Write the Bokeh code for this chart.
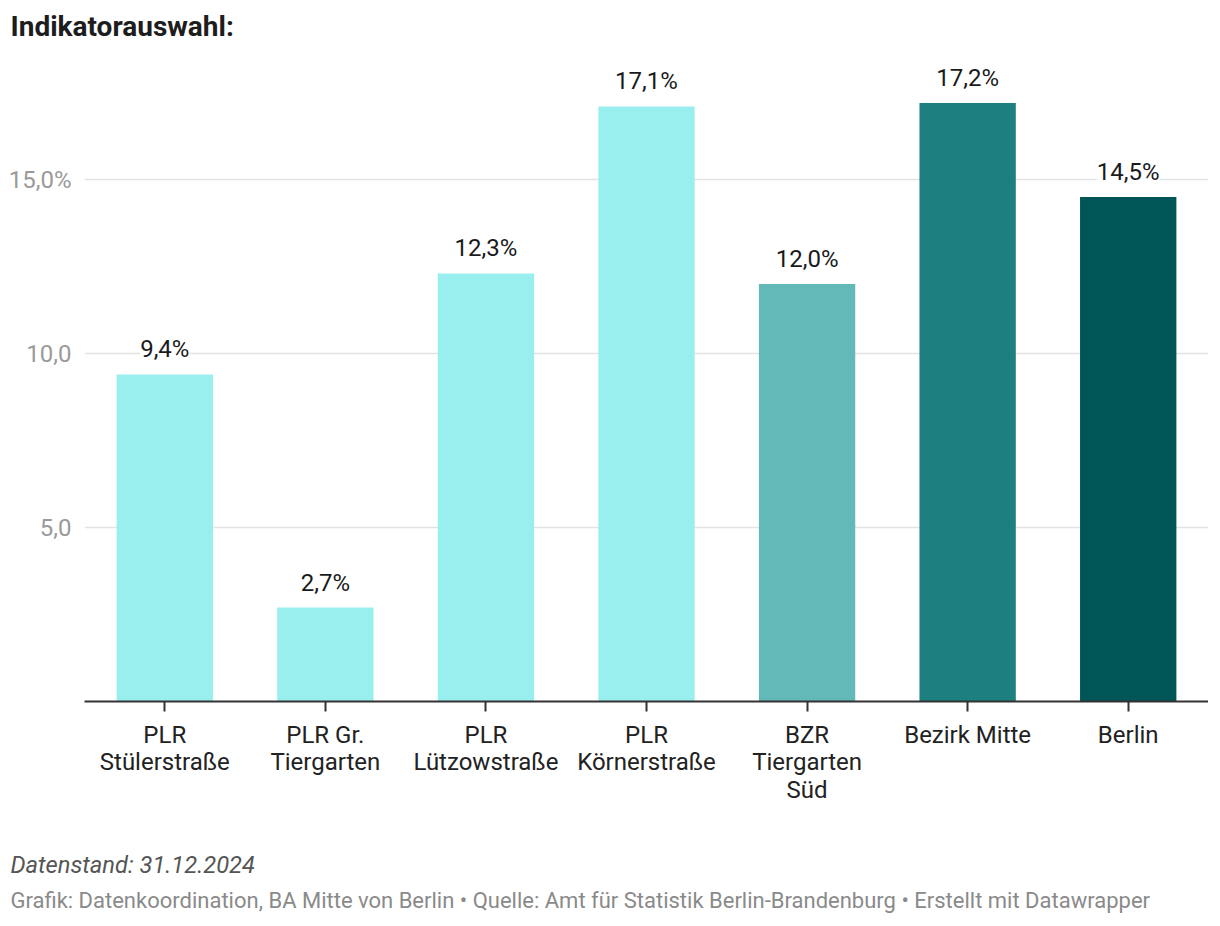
from bokeh.plotting import figure
from bokeh.models import ColumnDataSource, FactorRange, FixedTicker, Range1d, Title
from bokeh.core.properties import value
from bokeh.embed import file_html
from bokeh.resources import INLINE

categories = ["PLR\nStülerstraße", "PLR Gr.\nTiergarten", "PLR\nLützowstraße",
              "PLR\nKörnerstraße", "BZR\nTiergarten\nSüd", "Bezirk Mitte", "Berlin"]
values = [9.4, 2.7, 12.3, 17.1, 12.0, 17.2, 14.5]
colors = ["#99efed", "#99efed", "#99efed", "#99efed", "#62b9b7", "#1d7f7f", "#005556"]
y_ticks = [5, 10, 15]
y_tick_labels = ["5,0", "10,0", "15,0%"]
title_text = "Indikatorauswahl:"
note_text = "Datenstand: 31.12.2024"
source_text = ("Grafik: Datenkoordination, BA Mitte von Berlin • Quelle: Amt für Statistik "
               "Berlin-Brandenburg • Erstellt mit Datawrapper")

labels = [f"{v:.1f}".replace(".", ",") + "%" for v in values]
src = ColumnDataSource(dict(cat=categories, val=values, color=colors, label=labels))

FONT = "Roboto"

p = figure(x_range=FactorRange(*categories, range_padding=0),
           y_range=Range1d(0, 18.937),
           width=1208, height=918, output_backend="svg", toolbar_location=None,
           min_border_left=84, min_border_right=0, min_border_top=42, min_border_bottom=217)
p.outline_line_color = None
p.background_fill_color = "white"
p.border_fill_color = "white"

p.vbar(x="cat", top="val", width=0.6, color="color", line_color=None, source=src)

p.text(x="cat", y="val", text="label", source=src, text_align="center",
       text_baseline="alphabetic", y_offset=-25, text_font=value(FONT),
       text_font_size="24px", text_color="#1a1a1a", background_fill_color="white")

p.xgrid.grid_line_color = None
p.yaxis.ticker = FixedTicker(ticks=y_ticks)
p.ygrid.grid_line_color = "#e3e3e3"
p.ygrid.grid_line_width = 1.5

ya = p.yaxis[0]
ya.axis_line_color = None
ya.major_tick_line_color = None
ya.major_tick_out = 0
ya.major_tick_in = 0
ya.minor_tick_line_color = None
ya.minor_tick_out = 0
ya.major_label_text_color = "#9a9a9a"
ya.major_label_text_font = FONT
ya.major_label_text_font_size = "24px"
ya.major_label_standoff = 13
ya.major_label_overrides = dict(zip(y_ticks, y_tick_labels))

xa = p.xaxis[0]
xa.axis_line_color = "#333333"
xa.axis_line_width = 2
xa.major_tick_line_color = "#333333"
xa.major_tick_line_width = 2
xa.major_tick_out = 10
xa.major_tick_in = 0
xa.minor_tick_line_color = None
xa.major_label_text_font = FONT
xa.major_label_text_font_size = "24px"
xa.major_label_text_color = "#222222"
xa.major_label_standoff = 9
xa.major_label_text_line_height = 0.99

p.title.text = title_text
p.title.align = "left"
p.title.offset = -74
p.title.vertical_align = "bottom"
p.title.standoff = 0
p.title.text_font = FONT
p.title.text_font_size = "28px"
p.title.text_font_style = "bold"
p.title.text_color = "#1d1d1d"

spacer = Title(text=" ", text_font_size="29.9px", standoff=0)
note = Title(text=note_text, align="left", offset=-74, vertical_align="bottom", standoff=14,
             text_font=FONT, text_font_size="23.7px", text_font_style="italic",
             text_color="#555555")
source = Title(text=source_text, align="left", offset=-74, vertical_align="bottom", standoff=0,
               text_font=FONT, text_font_size="22px", text_font_style="normal",
               text_color="#8a8a8a")
p.add_layout(spacer, "below")
p.add_layout(note, "below")
p.add_layout(source, "below")

open("out.html", "w").write(file_html(p, INLINE))
